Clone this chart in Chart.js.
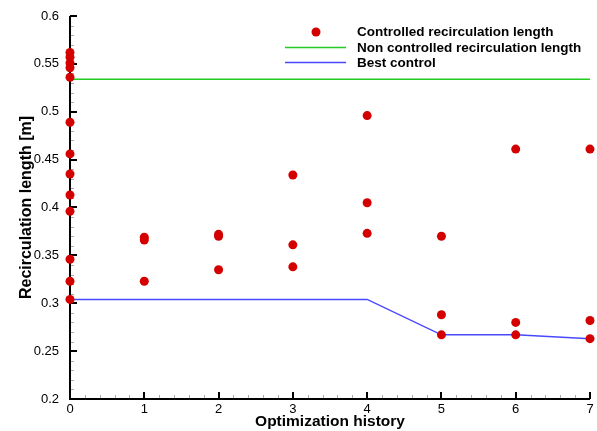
<!DOCTYPE html>
<html>
<head>
<meta charset="utf-8">
<script src="https://cdn.jsdelivr.net/npm/chart.js@4/dist/chart.umd.min.js"></script>
<style>
  html, body { margin: 0; padding: 0; background: #fff; }
  #wrap { width: 597px; height: 431px; }
</style>
</head>
<body>
<div id="wrap"><canvas id="c" width="597" height="431"></canvas></div>
<script>
// 數據
const controlledX = [0,0,0,0,0,0,0,0,0,0,0,0,0, 1,1,1, 2,2,2, 3,3,3, 4,4,4, 5,5,5, 6,6,6, 7,7,7];
const controlledY = [0.562,0.557,0.551,0.546,0.536,0.489,0.456,0.435,0.413,0.396,0.346,0.323,0.304,
  0.369,0.366,0.323, 0.372,0.370,0.335, 0.434,0.361,0.338, 0.496,0.405,0.373,
  0.370,0.288,0.267, 0.461,0.280,0.267, 0.461,0.282,0.263];
const nonControlledX = [0, 7];
const nonControlledY = [0.534, 0.534];
const bestX = [0,1,2,3,4,5,6,7];
const bestY = [0.304,0.304,0.304,0.304,0.304,0.267,0.267,0.263];
const xTicks = [0,1,2,3,4,5,6,7];
const yTicks = [0.2,0.25,0.3,0.35,0.4,0.45,0.5,0.55,0.6];
const legendLabels = ["Controlled recirculation length", "Non controlled recirculation length", "Best control"];

const RED = "#d40000", GREEN = "#22cc22", BLUE = "#4848ff";
const FONT = "'Liberation Sans', Arial, sans-serif";

const toPts = (xs, ys) => xs.map((x, i) => ({ x: x, y: ys[i] }));

// 刻度 (向內) 和圖例
const ticksPlugin = {
  id: "inTicks",
  beforeDatasetsDraw(chart) {
    const ctx = chart.ctx;
    const xs = chart.scales.x, ys = chart.scales.y;
    const a = chart.chartArea;
    ctx.save();
    // 次刻度
    ctx.strokeStyle = "#aaa";
    ctx.lineWidth = 1;
    ctx.beginPath();
    for (let v = 0; v <= 7.001; v += 0.2) {
      const px = Math.round(xs.getPixelForValue(v)) + 0.5;
      ctx.moveTo(px, a.bottom); ctx.lineTo(px, a.bottom - 4);
    }
    for (let v = 0.2; v <= 0.6001; v += 0.01) {
      const py = Math.round(ys.getPixelForValue(v)) + 0.5;
      ctx.moveTo(a.left, py); ctx.lineTo(a.left + 4, py);
    }
    ctx.stroke();
    // 主刻度
    ctx.strokeStyle = "#000";
    ctx.lineWidth = 2;
    ctx.beginPath();
    xTicks.forEach(v => {
      const px = Math.round(xs.getPixelForValue(v));
      ctx.moveTo(px, a.bottom); ctx.lineTo(px, a.bottom - 7);
    });
    yTicks.forEach(v => {
      const py = Math.round(ys.getPixelForValue(v));
      ctx.moveTo(a.left, py); ctx.lineTo(a.left + 7, py);
    });
    ctx.stroke();
    // 軸線
    ctx.beginPath();
    ctx.moveTo(a.left, a.top);
    ctx.lineTo(a.left, a.bottom);
    ctx.lineTo(a.right, a.bottom);
    ctx.stroke();
    ctx.restore();
  },
  afterDraw(chart) {
    const ctx = chart.ctx;
    ctx.save();
    // 圖例
    const textX = 357, rows = [32, 47.5, 62.5];
    ctx.fillStyle = RED;
    ctx.beginPath();
    ctx.arc(316, rows[0], 4.5, 0, Math.PI * 2);
    ctx.fill();
    ctx.lineWidth = 1.5;
    ctx.strokeStyle = GREEN;
    ctx.beginPath(); ctx.moveTo(285, rows[1]); ctx.lineTo(346, rows[1]); ctx.stroke();
    ctx.strokeStyle = BLUE;
    ctx.beginPath(); ctx.moveTo(285, rows[2]); ctx.lineTo(346, rows[2]); ctx.stroke();
    ctx.fillStyle = "#000";
    ctx.font = "bold 13.5px " + FONT;
    ctx.textBaseline = "middle";
    ctx.textAlign = "left";
    legendLabels.forEach((t, i) => ctx.fillText(t, textX, rows[i] + 0.5));
    ctx.restore();
  }
};

new Chart(document.getElementById("c"), {
  type: "scatter",
  data: {
    datasets: [
      {
        label: legendLabels[0],
        data: toPts(controlledX, controlledY),
        backgroundColor: RED,
        borderColor: RED,
        pointRadius: 4.5,
        pointBorderWidth: 0,
        showLine: false,
        clip: false,
      },
      {
        label: legendLabels[1],
        data: toPts(nonControlledX, nonControlledY),
        borderColor: GREEN,
        borderWidth: 1.5,
        pointRadius: 0,
        showLine: true,
      },
      {
        label: legendLabels[2],
        data: toPts(bestX, bestY),
        borderColor: BLUE,
        borderWidth: 1.5,
        pointRadius: 0,
        showLine: true,
      },
    ],
  },
  options: {
    responsive: false,
    animation: false,
    layout: { padding: { top: 16, right: 7, left: 17, bottom: 0 } },
    plugins: { legend: { display: false }, tooltip: { enabled: false } },
    scales: {
      x: {
        type: "linear",
        min: 0, max: 7,
        afterBuildTicks: s => { s.ticks = xTicks.map(v => ({ value: v })); },
        afterFit: s => { s.height = 32; },
        grid: { display: false },
        border: { display: false },
        ticks: { color: "#000", font: { family: FONT, size: 13 }, padding: -5, maxRotation: 0 },
        title: { display: true, text: "Optimization history", color: "#000", font: { family: FONT, size: 15.5, weight: "bold" }, padding: { top: -4, bottom: 0 } },
      },
      y: {
        min: 0.2, max: 0.6,
        afterBuildTicks: s => { s.ticks = yTicks.map(v => ({ value: v })); },
        afterFit: s => { s.width = 53; },
        grid: { display: false },
        border: { display: false },
        ticks: {
          color: "#000", font: { family: FONT, size: 13 }, padding: 3,
          callback: v => String(Number(v.toFixed(2))),
        },
        title: { display: true, text: "Recirculation length [m]", color: "#000", font: { family: FONT, size: 16, weight: "bold" }, padding: { top: 0, bottom: 4 } },
      },
    },
  },
  plugins: [ticksPlugin],
});
</script>
</body>
</html>
